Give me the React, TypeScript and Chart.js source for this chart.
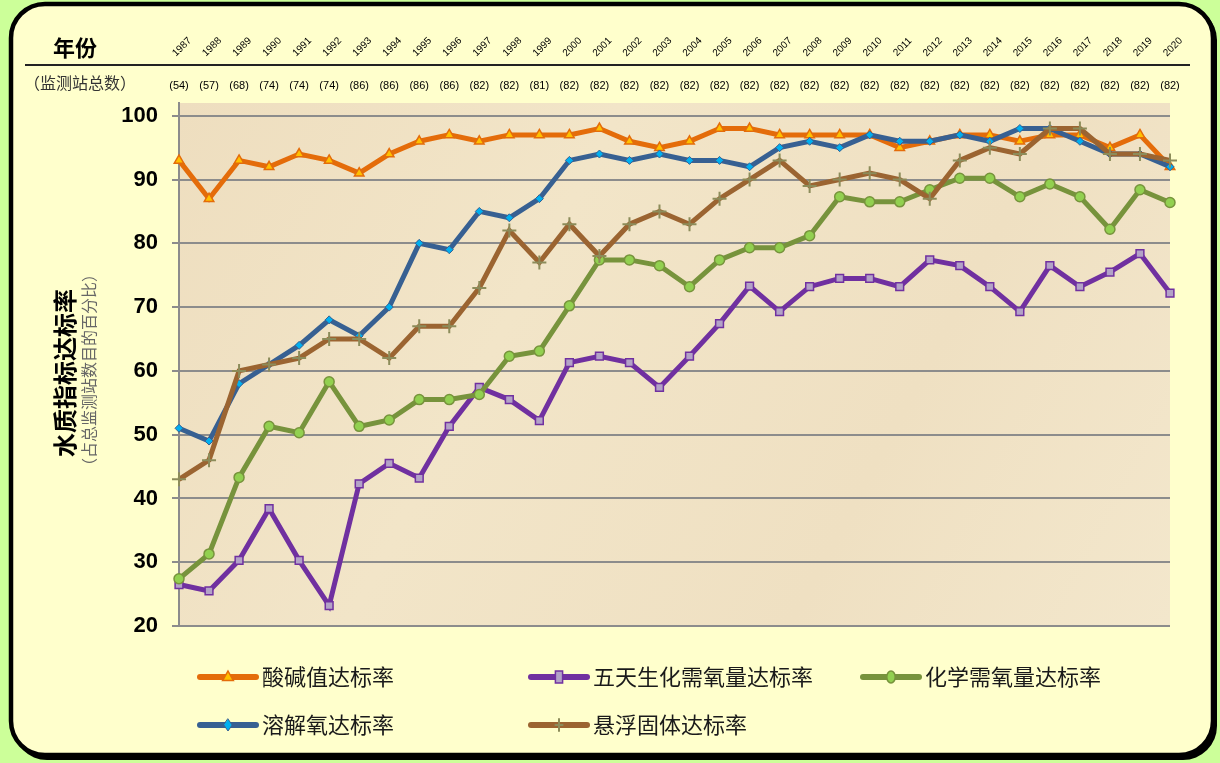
import React, { useEffect, useRef } from 'react';
import { Chart, registerables } from 'chart.js';

Chart.register(...registerables);

const years = ['1987','1988','1989','1990','1991','1992','1993','1994','1995','1996','1997','1998','1999','2000','2001','2002','2003','2004','2005','2006','2007','2008','2009','2010','2011','2012','2013','2014','2015','2016','2017','2018','2019','2020'];
const stationCounts = [54,57,68,74,74,74,86,86,86,86,82,82,81,82,82,82,82,82,82,82,82,82,82,82,82,82,82,82,82,82,82,82,82,82];

const phRate = [93,87,93,92,94,93,91,94,96,97,96,97,97,97,98,96,95,96,98,98,97,97,97,97,95,96,97,97,96,97,97,95,97,92];
const bodRate = [26.5,25.5,30.3,38.4,30.3,23.2,42.3,45.5,43.2,51.3,57.4,55.5,52.2,61.3,62.3,61.3,57.4,62.3,67.4,73.3,69.3,73.2,74.5,74.5,73.2,77.4,76.5,73.2,69.3,76.5,73.2,75.5,78.4,72.2];
const codRate = [27.4,31.3,43.3,51.3,50.3,58.3,51.3,52.3,55.5,55.5,56.3,62.3,63.1,70.2,77.4,77.4,76.5,73.2,77.4,79.3,79.3,81.2,87.3,86.5,86.5,88.4,90.2,90.2,87.3,89.3,87.3,82.2,88.4,86.4];
const doRate = [51,49,58,61,64,68,65.5,70,80,79,85,84,87,93,94,93,94,93,93,92,95,96,95,97,96,96,97,96,98,98,96,94,94,92];
const ssRate = [43,46,60,61,62,65,65,62,67,67,73,82,77,83,78,83,85,83,87,90,93,89,90,91,90,87,93,95,94,98,98,94,94,93];

const seriesNames = ['酸碱值达标率','五天生化需氧量达标率','化学需氧量达标率','溶解氧达标率','悬浮固体达标率'];

const yMin = 20;
const yMax = 102;
const yStep = 10;

const headerYearLabel = '年份';
const headerCountLabel = '（监测站总数）';
const yTitle = '水质指标达标率';
const ySubTitle = '（占总监测站数目的百分比）';

type Sty = { line: string; fill: string; stroke: string; style: string; radius: number; bw: number };
const styles: Sty[] = [
  { line: '#E46C0A', fill: '#FFC000', stroke: '#E46C0A', style: 'triangle', radius: 5.5, bw: 1.5 },
  { line: '#7030A0', fill: '#B3A2C7', stroke: '#7030A0', style: 'rect', radius: 5.5, bw: 1.5 },
  { line: '#77933C', fill: '#92D050', stroke: '#77933C', style: 'circle', radius: 5, bw: 1.5 },
  { line: '#376092', fill: '#00B0F0', stroke: '#376092', style: 'rectRot', radius: 4, bw: 1 },
  { line: '#9B6431', fill: '#8C8C5A', stroke: '#8C8C5A', style: 'cross', radius: 7, bw: 2 },
];

function drawMarker(ctx: CanvasRenderingContext2D, s: Sty, x: number, y: number, r: number) {
  ctx.save();
  ctx.fillStyle = s.fill;
  ctx.strokeStyle = s.stroke;
  ctx.lineWidth = s.bw;
  ctx.beginPath();
  if (s.style === 'triangle') {
    ctx.moveTo(x, y - r);
    ctx.lineTo(x + r * 0.9, y + r * 0.6);
    ctx.lineTo(x - r * 0.9, y + r * 0.6);
    ctx.closePath();
    ctx.fill(); ctx.stroke();
  } else if (s.style === 'rect') {
    ctx.rect(x - r * 0.6, y - r, r * 1.2, r * 2);
    ctx.fill(); ctx.stroke();
  } else if (s.style === 'circle') {
    ctx.ellipse(x, y, r * 0.7, r, 0, 0, Math.PI * 2);
    ctx.fill(); ctx.stroke();
  } else if (s.style === 'rectRot') {
    ctx.moveTo(x, y - r); ctx.lineTo(x + r * 0.7, y); ctx.lineTo(x, y + r); ctx.lineTo(x - r * 0.7, y); ctx.closePath();
    ctx.fill(); ctx.stroke();
  } else {
    ctx.moveTo(x, y - r); ctx.lineTo(x, y + r);
    ctx.moveTo(x - r * 0.6, y); ctx.lineTo(x + r * 0.6, y);
    ctx.stroke();
  }
  ctx.restore();
}

const legendPos = [
  { x: 200, y: 677 },
  { x: 531, y: 677 },
  { x: 863, y: 677 },
  { x: 200, y: 725 },
  { x: 531, y: 725 },
];

const decorPlugin = {
  id: 'decor',
  beforeDraw(chart: any) {
    const ctx: CanvasRenderingContext2D = chart.ctx;
    const W = chart.width, H = chart.height;
    ctx.save();
    ctx.fillStyle = '#CCFF99';
    ctx.fillRect(0, 0, W, H);
    // shadow
    ctx.beginPath();
    (ctx as any).roundRect(13, 6, 1204, 754, 34);
    ctx.fillStyle = '#000';
    ctx.fill();
    ctx.beginPath();
    (ctx as any).roundRect(11, 4, 1202, 751, 34);
    ctx.fillStyle = '#FFFFCC';
    ctx.fill();
    ctx.lineWidth = 4.5;
    ctx.strokeStyle = '#000';
    ctx.stroke();

    const a = chart.chartArea;
    const g = ctx.createLinearGradient(a.left, a.top, a.right, a.bottom);
    g.addColorStop(0, '#EEDEBF');
    g.addColorStop(0.35, '#F2E5C8');
    g.addColorStop(0.7, '#EFE0C2');
    g.addColorStop(1, '#F3E7CC');
    ctx.fillStyle = g;
    ctx.fillRect(a.left, a.top, a.right - a.left, a.bottom - a.top);

    // header
    ctx.fillStyle = '#000';
    ctx.font = 'bold 22px "Noto Sans CJK SC"';
    ctx.textAlign = 'left';
    ctx.textBaseline = 'middle';
    ctx.fillText(headerYearLabel, 53, 48);

    ctx.beginPath();
    ctx.moveTo(25, 65);
    ctx.lineTo(1190, 65);
    ctx.lineWidth = 2;
    ctx.strokeStyle = '#222';
    ctx.stroke();

    ctx.fillStyle = '#333';
    ctx.font = '16px "Noto Sans CJK SC"';
    ctx.fillText(headerCountLabel, 24, 83);

    const xs = chart.scales.x;
    years.forEach((yr, i) => {
      const x = xs.getPixelForValue(i);
      ctx.save();
      ctx.translate(x + 3, 47);
      ctx.rotate(-Math.PI / 4);
      ctx.font = '10px "Liberation Sans"';
      ctx.fillStyle = '#000';
      ctx.textAlign = 'center';
      ctx.textBaseline = 'middle';
      ctx.fillText(yr, 0, 0);
      ctx.restore();
      ctx.font = '11px "Liberation Sans"';
      ctx.fillStyle = '#000';
      ctx.textAlign = 'center';
      ctx.fillText('(' + stationCounts[i] + ')', x, 86);
    });

    // y titles
    ctx.save();
    ctx.translate(65, 373);
    ctx.rotate(-Math.PI / 2);
    ctx.textAlign = 'center';
    ctx.textBaseline = 'middle';
    ctx.fillStyle = '#000';
    ctx.font = 'bold 24px "Noto Sans CJK SC"';
    ctx.fillText(yTitle, 0, 0);
    ctx.restore();
    ctx.save();
    ctx.translate(89, 370);
    ctx.rotate(-Math.PI / 2);
    ctx.textAlign = 'center';
    ctx.textBaseline = 'middle';
    ctx.fillStyle = '#666';
    ctx.font = '16px "Noto Sans CJK SC"';
    ctx.fillText(ySubTitle, 0, 0);
    ctx.restore();
    ctx.restore();
  },
  afterDraw(chart: any) {
    const ctx: CanvasRenderingContext2D = chart.ctx;
    ctx.save();
    seriesNames.forEach((name, i) => {
      const p = legendPos[i];
      const s = styles[i];
      ctx.beginPath();
      ctx.moveTo(p.x, p.y);
      ctx.lineTo(p.x + 56, p.y);
      ctx.lineWidth = 6;
      ctx.lineCap = 'round';
      ctx.strokeStyle = s.line;
      ctx.stroke();
      drawMarker(ctx, s, p.x + 28, p.y, 6);
      ctx.fillStyle = '#1a1a1a';
      ctx.font = '22px "Noto Sans CJK SC"';
      ctx.textAlign = 'left';
      ctx.textBaseline = 'middle';
      ctx.fillText(name, p.x + 62, p.y);
    });
    ctx.restore();
  },
};

export default function App() {
  const ref = useRef<HTMLCanvasElement | null>(null);
  useEffect(() => {
    if (!ref.current) return;
    const series = [phRate, bodRate, codRate, doRate, ssRate];
    const chart = new Chart(ref.current, {
      type: 'line',
      data: {
        labels: years,
        datasets: series.map((d, i) => ({
          label: seriesNames[i],
          data: d,
          borderColor: styles[i].line,
          borderWidth: 5,
          pointStyle: styles[i].style as any,
          pointRadius: styles[i].radius,
          pointBackgroundColor: styles[i].fill,
          pointBorderColor: styles[i].stroke,
          pointBorderWidth: styles[i].bw,
          tension: 0,
          fill: false,
          clip: false as any,
          order: 5 - i,
        })),
      },
      options: {
        animation: false,
        responsive: false,
        devicePixelRatio: 1,
        layout: { padding: { left: 0, top: 103, right: 50, bottom: 137 } },
        plugins: { legend: { display: false }, tooltip: { enabled: false } },
        scales: {
          x: { display: false, offset: false },
          y: {
            min: yMin,
            max: yMax,
            afterFit: (scale: any) => { scale.width = 179; },
            ticks: {
              stepSize: yStep,
              includeBounds: false,
              color: '#000',
              font: { family: '"Liberation Sans"', size: 22, weight: 'bold' },
              padding: 14,
            },
            grid: { color: '#8C8C8C', lineWidth: 2, tickLength: 7, drawTicks: true },
            border: { display: true, color: '#8C8C8C', width: 2 },
          },
        },
      },
      plugins: [decorPlugin],
    });
    return () => chart.destroy();
  }, []);
  return (
    <div style={{ position: 'absolute', left: 0, top: 0, width: 1220, height: 763 }}>
      <canvas ref={ref} width={1220} height={763} style={{ width: 1220, height: 763, display: 'block' }} />
    </div>
  );
}
